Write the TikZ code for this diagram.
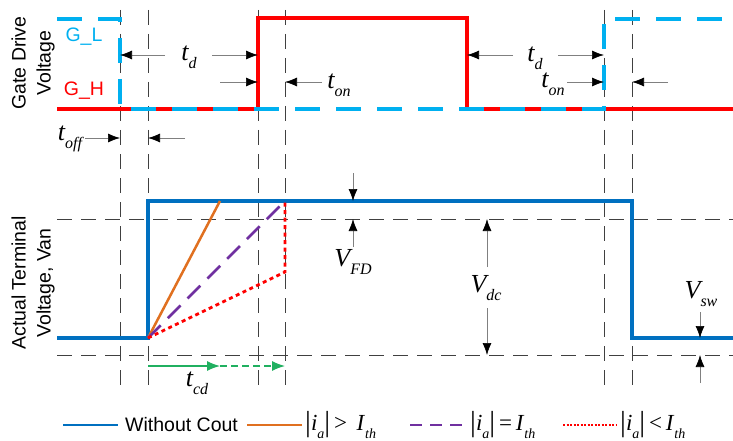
\documentclass[tikz,border=0pt]{standalone}
\usepackage{fontspec}
\setmainfont{Liberation Sans}
\newfontfamily\tnr{Liberation Serif}
\usetikzlibrary{arrows.meta}
\definecolor{vblue}{HTML}{0070C0}
\definecolor{gcyan}{HTML}{00B0F0}
\definecolor{gred}{HTML}{FF0000}
\definecolor{vorange}{HTML}{E07020}
\definecolor{vpurple}{HTML}{7030A0}
\definecolor{vgreen}{HTML}{20B060}
\newcommand\sublab[2]{{\tnr\itshape #1\raisebox{-0.32em}{\fontsize{16}{16}\selectfont #2}}}
\newcommand\legsub[1]{\raisebox{-0.35em}{\fontsize{14}{14}\selectfont\itshape #1}}
\newcommand\legbar{\raisebox{-0.05em}{\fontsize{29}{29}\selectfont|}}
\begin{document}
\begin{tikzpicture}[x=1pt,y=-1pt,
  gridline/.style={black!75, line width=0.9pt, dash pattern=on 15pt off 9pt},
  dim/.style={black!50, line width=0.7pt, -{Latex[length=12pt,width=9pt,color=black]}},
  lab/.style={font=\fontsize{26}{26}\selectfont, inner sep=0pt},
  txt/.style={font=\fontsize{19.5}{25}\selectfont, inner sep=0pt},
  gtip/.style={-{Latex[length=13pt,width=10pt]}},
  leg/.style={font=\fontsize{23}{23}\selectfont\tnr, inner sep=0pt, anchor=west}]
\useasboundingbox (0,0) rectangle (733,441);
% grid lines
\foreach \x in {120,148,258,285,604,632}
  \draw[gridline] (\x,10) -- (\x,386);
\draw[gridline] (57,219) -- (733,219);
\draw[gridline] (57,355) -- (733,355);
% gate drive
\draw[gred, line width=3.5pt, line join=miter] (57,109) -- (258,109) -- (258,18) -- (467,18) -- (467,109) -- (733,109);
\draw[gcyan, line width=4pt, dash pattern=on 25pt off 16pt] (57,19) -- (120,19) -- (120,109) -- (604,109) -- (604,19) -- (733,19);
\node[txt, text=gcyan] (gl) at (84,37) {G\_L};
\node[txt, text=gred] (gh) at (84,91) {G\_H};
\node[txt, rotate=90, align=center] (gdv) at (33,63) {Gate Drive\\Voltage};
\node[txt, rotate=90, align=center] (atv) at (33,283) {Actual Terminal\\Voltage, Van};
% timing dims
\draw[dim] (165,55) -- (120,55);
\draw[dim] (212,55) -- (258,55);
\draw[dim] (220,82) -- (258,82);
\draw[dim] (322,82) -- (285,82);
\draw[dim] (513,55) -- (467,55);
\draw[dim] (558,55) -- (604,55);
\draw[dim] (567,82) -- (604,82);
\draw[dim] (668,82) -- (632,82);
\draw[dim] (85,138) -- (120,138);
\draw[dim] (185,138) -- (148,138);
\node[lab] (td1) at (189,57) {\sublab{t}{d}};
\node[lab] (ton1) at (339,85) {\sublab{t}{on}};
\node[lab] (td2) at (535,58) {\sublab{t}{d}};
\node[lab] (ton2) at (553,84) {\sublab{t}{on}};
\node[lab] (toff) at (70,139) {\sublab{t}{off}};
% terminal voltage
\draw[vblue, line width=3.2pt, line join=miter] (57,338) -- (148,338) -- (148,201) -- (632,201) -- (632,338) -- (733,338);
\draw[vorange, line width=2.5pt] (148,338) -- (220,201);
\draw[vpurple, line width=2.5pt, dash pattern=on 18pt off 10pt] (148,338) -- (285,201);
\draw[gred, line width=2.8pt, dash pattern=on 4pt off 3.5pt] (148,338) -- (285,272) -- (285,201);
% voltage dims
\draw[dim] (353,173) -- (353,201);
\draw[dim] (353,247) -- (353,219);
\draw[dim] (487,267) -- (487,219);
\draw[dim] (487,308) -- (487,355);
\draw[dim] (700,312) -- (700,338);
\draw[dim] (700,383) -- (700,355);
\node[lab] (vfd) at (353,262) {\sublab{V}{FD}};
\node[lab] (vdc) at (486,288) {\sublab{V}{dc}};
\node[lab] (vsw) at (701,294) {\sublab{V}{sw}};
% tcd
\draw[vgreen, line width=1.2pt, gtip] (148,366) -- (220,366);
\draw[vgreen, line width=1.2pt, dash pattern=on 7pt off 4pt, gtip] (220,366) -- (285,366);
\node[lab] (tcd) at (197,383) {\sublab{t}{cd}};
% legend
\draw[vblue, line width=2pt] (63,425) -- (118,425);
\node[txt, anchor=west] (l1) at (125,425) {Without Cout};
\draw[vorange, line width=2pt] (247,425) -- (302,425);
\node[leg] (l2) at (305,425) {\legbar\textit{i}\legsub{a}\legbar\,>\, \textit{I}\legsub{th}};
\draw[vpurple, line width=2pt, dash pattern=on 12pt off 8pt] (410,425) -- (467,425);
\node[leg] (l3) at (470,425) {\legbar\textit{i}\legsub{a}\legbar\,=\,\textit{I}\legsub{th}};
\draw[gred, line width=1.5pt, dash pattern=on 2pt off 1.5pt] (563,425) -- (617,425);
\node[leg] (l4) at (620,425) {\legbar\textit{i}\legsub{a}\legbar\,<\,\textit{I}\legsub{th}};
\end{tikzpicture}
\end{document}
